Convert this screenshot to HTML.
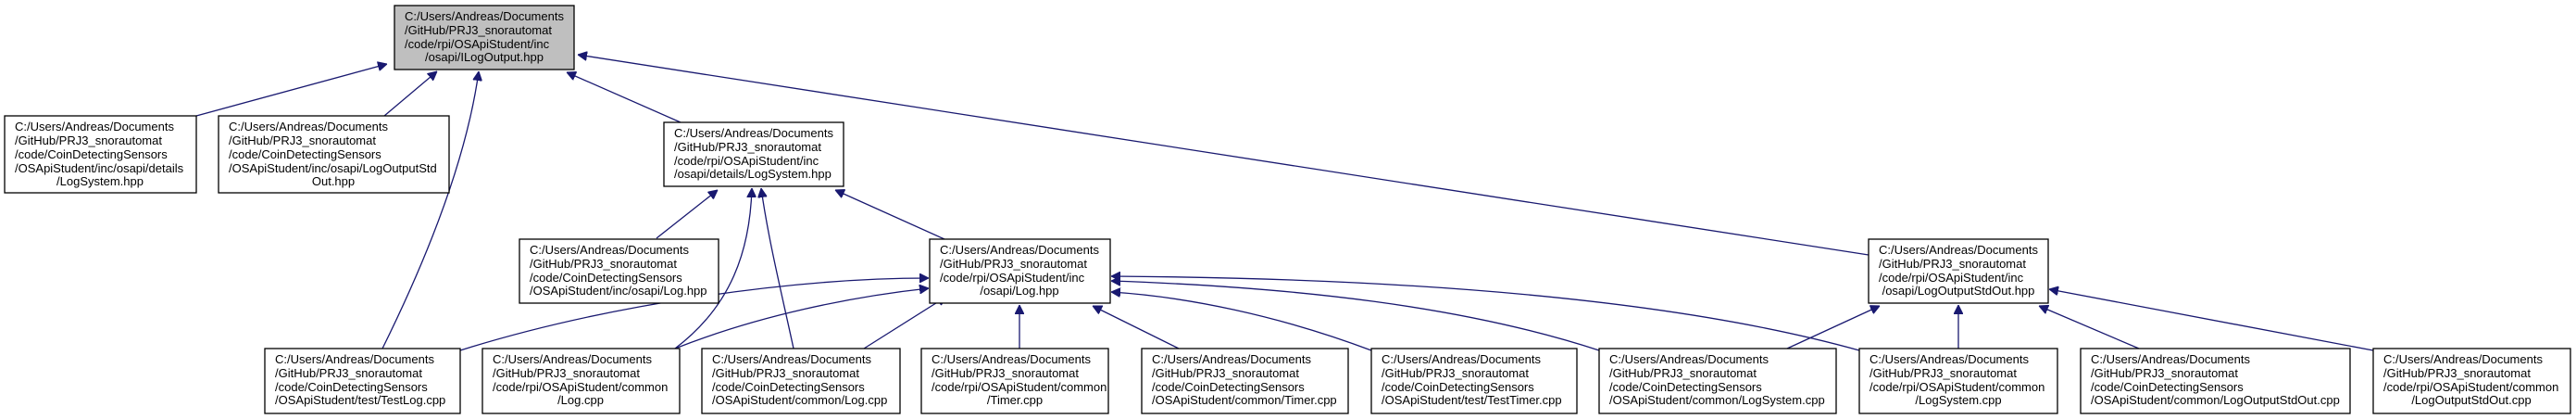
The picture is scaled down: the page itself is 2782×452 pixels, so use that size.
<!DOCTYPE html>
<html><head><meta charset="utf-8"><style>
html,body{margin:0;padding:0;background:#fff;}
svg{display:block;}
text{font-family:"Liberation Sans",Arial,sans-serif;font-size:13px;fill:#000;}
.b{fill:#fff;stroke:#000;stroke-width:1.3;}
.r{fill:#bfbfbf;stroke:#000;stroke-width:1.3;}
.e{fill:none;stroke:#191970;stroke-width:1.3;}
</style></head><body>
<svg width="2782" height="452" viewBox="0 0 2782 452" xmlns="http://www.w3.org/2000/svg">
<defs><marker id="a" viewBox="0 0 10 10" refX="10" refY="5" markerWidth="10" markerHeight="10" markerUnits="userSpaceOnUse" orient="auto"><path d="M0,0 L10,5 L0,10 z" fill="#191970" stroke="#191970"/></marker></defs>

<!-- edges -->
<g class="e" marker-end="url(#a)">
<path d="M212,125 L418,69"/>
<path d="M415,125 L472,77"/>
<path d="M735,132 L612,78"/>
<path d="M2018,275 L624,59"/>
<path d="M413,376 Q500,200 517,77"/>
<path d="M709,257 L775,205"/>
<path d="M729,376 C790,330 810,270 812,203"/>
<path d="M857,376 C845,320 830,260 822,203"/>
<path d="M1020,258 L902,205"/>
<path d="M497,378 C650,330 850,300 1003,300"/>
<path d="M729,376 C820,340 920,320 1003,311"/>
<path d="M933,376 L1022,320"/>
<path d="M1101,376 L1101,329"/>
<path d="M1273,376 L1180,330"/>
<path d="M1481,378 C1380,340 1280,320 1200,315"/>
<path d="M1727,378 C1580,330 1400,310 1200,303"/>
<path d="M2008,378 C1800,320 1500,300 1200,298"/>
<path d="M1930,376 L2030,330"/>
<path d="M2115,376 L2115,329"/>
<path d="M2310,376 L2202,330"/>
<path d="M2563,378 L2213,312"/>
</g>

<!-- root -->
<rect class="r" x="426" y="6" width="194" height="69"/>
<text x="437" y="22">C:/Users/Andreas/Documents</text>
<text x="437" y="37">/GitHub/PRJ3_snorautomat</text>
<text x="437" y="52">/code/rpi/OSApiStudent/inc</text>
<text x="523" y="66" text-anchor="middle">/osapi/ILogOutput.hpp</text>

<!-- row 2 -->
<rect class="b" x="5" y="125" width="207" height="83"/>
<text x="16" y="141">C:/Users/Andreas/Documents</text>
<text x="16" y="156">/GitHub/PRJ3_snorautomat</text>
<text x="16" y="171">/code/CoinDetectingSensors</text>
<text x="16" y="186">/OSApiStudent/inc/osapi/details</text>
<text x="108" y="200" text-anchor="middle">/LogSystem.hpp</text>

<rect class="b" x="236" y="125" width="249" height="83"/>
<text x="247" y="141">C:/Users/Andreas/Documents</text>
<text x="247" y="156">/GitHub/PRJ3_snorautomat</text>
<text x="247" y="171">/code/CoinDetectingSensors</text>
<text x="247" y="186">/OSApiStudent/inc/osapi/LogOutputStd</text>
<text x="360" y="200" text-anchor="middle">Out.hpp</text>

<rect class="b" x="717" y="132" width="194" height="69"/>
<text x="728" y="148">C:/Users/Andreas/Documents</text>
<text x="728" y="163">/GitHub/PRJ3_snorautomat</text>
<text x="728" y="178">/code/rpi/OSApiStudent/inc</text>
<text x="728" y="192">/osapi/details/LogSystem.hpp</text>

<!-- row 3 -->
<rect class="b" x="561" y="258" width="215" height="69"/>
<text x="572" y="274">C:/Users/Andreas/Documents</text>
<text x="572" y="289">/GitHub/PRJ3_snorautomat</text>
<text x="572" y="304">/code/CoinDetectingSensors</text>
<text x="572" y="318">/OSApiStudent/inc/osapi/Log.hpp</text>

<rect class="b" x="1004" y="258" width="195" height="69"/>
<text x="1015" y="274">C:/Users/Andreas/Documents</text>
<text x="1015" y="289">/GitHub/PRJ3_snorautomat</text>
<text x="1015" y="304">/code/rpi/OSApiStudent/inc</text>
<text x="1101" y="318" text-anchor="middle">/osapi/Log.hpp</text>

<rect class="b" x="2018" y="258" width="194" height="69"/>
<text x="2029" y="274">C:/Users/Andreas/Documents</text>
<text x="2029" y="289">/GitHub/PRJ3_snorautomat</text>
<text x="2029" y="304">/code/rpi/OSApiStudent/inc</text>
<text x="2115" y="318" text-anchor="middle">/osapi/LogOutputStdOut.hpp</text>

<!-- bottom row -->
<rect class="b" x="286" y="376" width="211" height="70"/>
<text x="297" y="392">C:/Users/Andreas/Documents</text>
<text x="297" y="407">/GitHub/PRJ3_snorautomat</text>
<text x="297" y="422">/code/CoinDetectingSensors</text>
<text x="297" y="436">/OSApiStudent/test/TestLog.cpp</text>

<rect class="b" x="521" y="376" width="213" height="70"/>
<text x="532" y="392">C:/Users/Andreas/Documents</text>
<text x="532" y="407">/GitHub/PRJ3_snorautomat</text>
<text x="532" y="422">/code/rpi/OSApiStudent/common</text>
<text x="627" y="436" text-anchor="middle">/Log.cpp</text>

<rect class="b" x="758" y="376" width="214" height="70"/>
<text x="769" y="392">C:/Users/Andreas/Documents</text>
<text x="769" y="407">/GitHub/PRJ3_snorautomat</text>
<text x="769" y="422">/code/CoinDetectingSensors</text>
<text x="769" y="436">/OSApiStudent/common/Log.cpp</text>

<rect class="b" x="995" y="376" width="202" height="70"/>
<text x="1006" y="392">C:/Users/Andreas/Documents</text>
<text x="1006" y="407">/GitHub/PRJ3_snorautomat</text>
<text x="1006" y="422">/code/rpi/OSApiStudent/common</text>
<text x="1096" y="436" text-anchor="middle">/Timer.cpp</text>

<rect class="b" x="1233" y="376" width="223" height="70"/>
<text x="1244" y="392">C:/Users/Andreas/Documents</text>
<text x="1244" y="407">/GitHub/PRJ3_snorautomat</text>
<text x="1244" y="422">/code/CoinDetectingSensors</text>
<text x="1244" y="436">/OSApiStudent/common/Timer.cpp</text>

<rect class="b" x="1481" y="376" width="222" height="70"/>
<text x="1492" y="392">C:/Users/Andreas/Documents</text>
<text x="1492" y="407">/GitHub/PRJ3_snorautomat</text>
<text x="1492" y="422">/code/CoinDetectingSensors</text>
<text x="1492" y="436">/OSApiStudent/test/TestTimer.cpp</text>

<rect class="b" x="1727" y="376" width="256" height="70"/>
<text x="1738" y="392">C:/Users/Andreas/Documents</text>
<text x="1738" y="407">/GitHub/PRJ3_snorautomat</text>
<text x="1738" y="422">/code/CoinDetectingSensors</text>
<text x="1738" y="436">/OSApiStudent/common/LogSystem.cpp</text>

<rect class="b" x="2008" y="376" width="214" height="70"/>
<text x="2019" y="392">C:/Users/Andreas/Documents</text>
<text x="2019" y="407">/GitHub/PRJ3_snorautomat</text>
<text x="2019" y="422">/code/rpi/OSApiStudent/common</text>
<text x="2115" y="436" text-anchor="middle">/LogSystem.cpp</text>

<rect class="b" x="2247" y="376" width="291" height="70"/>
<text x="2258" y="392">C:/Users/Andreas/Documents</text>
<text x="2258" y="407">/GitHub/PRJ3_snorautomat</text>
<text x="2258" y="422">/code/CoinDetectingSensors</text>
<text x="2258" y="436">/OSApiStudent/common/LogOutputStdOut.cpp</text>

<rect class="b" x="2563" y="376" width="213" height="70"/>
<text x="2574" y="392">C:/Users/Andreas/Documents</text>
<text x="2574" y="407">/GitHub/PRJ3_snorautomat</text>
<text x="2574" y="422">/code/rpi/OSApiStudent/common</text>
<text x="2669" y="436" text-anchor="middle">/LogOutputStdOut.cpp</text>
</svg>
</body></html>
